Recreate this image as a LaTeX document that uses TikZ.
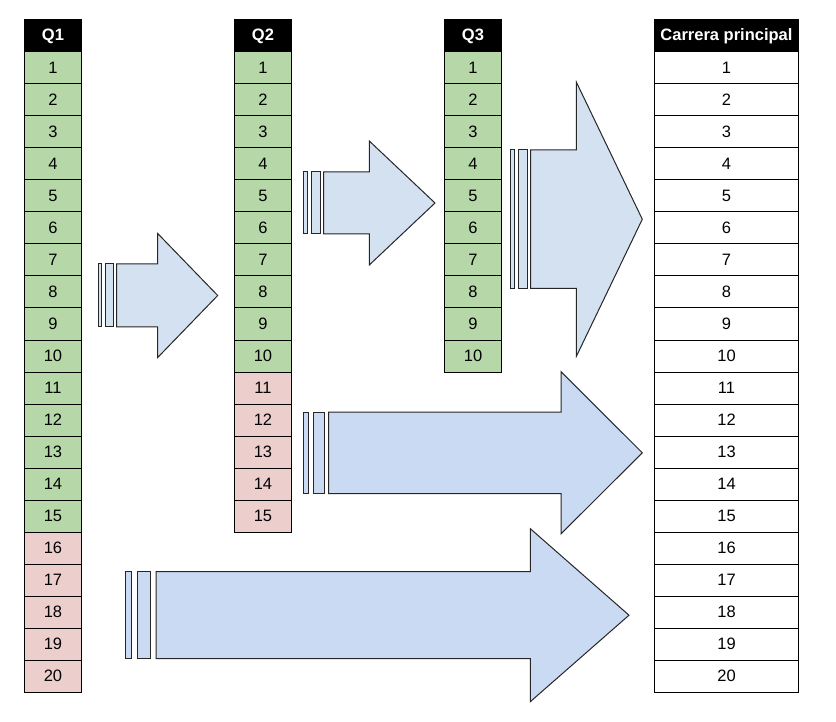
\documentclass[tikz,border=0pt]{standalone}
\usepackage{fontspec}
\setmainfont{Liberation Sans}
\definecolor{verde}{HTML}{B6D7A8}
\definecolor{rosa}{HTML}{ECCFCD}
\definecolor{azul}{HTML}{D4E1F1}
\definecolor{azulb}{HTML}{CBDAF3}
\tikzset{
  celda/.style={draw, line width=1pt, minimum width=57.4pt, minimum height=32pt,
    inner sep=0pt, font=\fontsize{16.5}{20}\selectfont},
  cabecera/.style={celda, fill=black, text=white, font=\fontsize{16.5}{20}\selectfont\bfseries},
  pasa/.style={celda, fill=verde},
  elim/.style={celda, fill=rosa},
  ancha/.style={minimum width=144.4pt},
  flecha/.style={draw=black!85, line width=1pt, line join=miter},
}
\begin{document}
\begin{tikzpicture}[x=1pt, y=-1pt]
  \useasboundingbox (0,0) rectangle (836,722);
  % Q1
  \node[cabecera] (q1-h) at (53,36) {Q1};
  \node[pasa] (q1-1) at (53,68) {1};
  \node[pasa] (q1-2) at (53,100) {2};
  \node[pasa] (q1-3) at (53,132) {3};
  \node[pasa] (q1-4) at (53,164) {4};
  \node[pasa] (q1-5) at (53,196) {5};
  \node[pasa] (q1-6) at (53,228) {6};
  \node[pasa] (q1-7) at (53,260) {7};
  \node[pasa] (q1-8) at (53,292) {8};
  \node[pasa] (q1-9) at (53,324) {9};
  \node[pasa] (q1-10) at (53,356) {10};
  \node[pasa] (q1-11) at (53,388) {11};
  \node[pasa] (q1-12) at (53,420) {12};
  \node[pasa] (q1-13) at (53,452) {13};
  \node[pasa] (q1-14) at (53,484) {14};
  \node[pasa] (q1-15) at (53,516) {15};
  \node[elim] (q1-16) at (53,548) {16};
  \node[elim] (q1-17) at (53,580) {17};
  \node[elim] (q1-18) at (53,612) {18};
  \node[elim] (q1-19) at (53,644) {19};
  \node[elim] (q1-20) at (53,676) {20};
  % Q2
  \node[cabecera] (q2-h) at (263,36) {Q2};
  \node[pasa] (q2-1) at (263,68) {1};
  \node[pasa] (q2-2) at (263,100) {2};
  \node[pasa] (q2-3) at (263,132) {3};
  \node[pasa] (q2-4) at (263,164) {4};
  \node[pasa] (q2-5) at (263,196) {5};
  \node[pasa] (q2-6) at (263,228) {6};
  \node[pasa] (q2-7) at (263,260) {7};
  \node[pasa] (q2-8) at (263,292) {8};
  \node[pasa] (q2-9) at (263,324) {9};
  \node[pasa] (q2-10) at (263,356) {10};
  \node[elim] (q2-11) at (263,388) {11};
  \node[elim] (q2-12) at (263,420) {12};
  \node[elim] (q2-13) at (263,452) {13};
  \node[elim] (q2-14) at (263,484) {14};
  \node[elim] (q2-15) at (263,516) {15};
  % Q3
  \node[cabecera] (q3-h) at (473,36) {Q3};
  \node[pasa] (q3-1) at (473,68) {1};
  \node[pasa] (q3-2) at (473,100) {2};
  \node[pasa] (q3-3) at (473,132) {3};
  \node[pasa] (q3-4) at (473,164) {4};
  \node[pasa] (q3-5) at (473,196) {5};
  \node[pasa] (q3-6) at (473,228) {6};
  \node[pasa] (q3-7) at (473,260) {7};
  \node[pasa] (q3-8) at (473,292) {8};
  \node[pasa] (q3-9) at (473,324) {9};
  \node[pasa] (q3-10) at (473,356) {10};
  % Carrera principal
  \node[cabecera, ancha] (cp-h) at (726.5,36) {Carrera principal};
  \node[celda, ancha] (cp-1) at (726.5,68) {1};
  \node[celda, ancha] (cp-2) at (726.5,100) {2};
  \node[celda, ancha] (cp-3) at (726.5,132) {3};
  \node[celda, ancha] (cp-4) at (726.5,164) {4};
  \node[celda, ancha] (cp-5) at (726.5,196) {5};
  \node[celda, ancha] (cp-6) at (726.5,228) {6};
  \node[celda, ancha] (cp-7) at (726.5,260) {7};
  \node[celda, ancha] (cp-8) at (726.5,292) {8};
  \node[celda, ancha] (cp-9) at (726.5,324) {9};
  \node[celda, ancha] (cp-10) at (726.5,356) {10};
  \node[celda, ancha] (cp-11) at (726.5,388) {11};
  \node[celda, ancha] (cp-12) at (726.5,420) {12};
  \node[celda, ancha] (cp-13) at (726.5,452) {13};
  \node[celda, ancha] (cp-14) at (726.5,484) {14};
  \node[celda, ancha] (cp-15) at (726.5,516) {15};
  \node[celda, ancha] (cp-16) at (726.5,548) {16};
  \node[celda, ancha] (cp-17) at (726.5,580) {17};
  \node[celda, ancha] (cp-18) at (726.5,612) {18};
  \node[celda, ancha] (cp-19) at (726.5,644) {19};
  \node[celda, ancha] (cp-20) at (726.5,676) {20};
  % flechas
  \draw[flecha, fill=azul] (98.3,264) rectangle (101.7,327);
  \draw[flecha, fill=azul] (105,264) rectangle (113.7,327);
  \draw[flecha, fill=azul] (116.7,264) -- (157.7,264) -- (157.7,233.5) -- (217.7,295.5) -- (157.7,357.5) -- (157.7,327) -- (116.7,327) -- cycle;
  \draw[flecha, fill=azul] (303.3,172) rectangle (307.3,234);
  \draw[flecha, fill=azul] (311.3,172) rectangle (320,234);
  \draw[flecha, fill=azul] (323.7,172) -- (369.3,172) -- (369.3,141) -- (435,203) -- (369.3,265) -- (369.3,234) -- (323.7,234) -- cycle;
  \draw[flecha, fill=azul] (510,150) rectangle (514.7,288.5);
  \draw[flecha, fill=azul] (518.7,150) rectangle (527,288.5);
  \draw[flecha, fill=azul] (530.7,150) -- (576.3,150) -- (576.3,82) -- (642.3,219.25) -- (576.3,356.5) -- (576.3,288.5) -- (530.7,288.5) -- cycle;
  \draw[flecha, fill=azulb] (303.5,412) rectangle (308.6,493.7);
  \draw[flecha, fill=azulb] (313.5,412) rectangle (324.2,493.7);
  \draw[flecha, fill=azulb] (328.6,412) -- (561,412) -- (561,371.7) -- (642.3,452.8) -- (561,533.9) -- (561,493.7) -- (328.6,493.7) -- cycle;
  \draw[flecha, fill=azulb] (125.9,571.7) rectangle (131.8,658.7);
  \draw[flecha, fill=azulb] (137.7,571.7) rectangle (150.7,658.7);
  \draw[flecha, fill=azulb] (156.2,571.7) -- (530.3,571.7) -- (530.3,528.7) -- (629,615.2) -- (530.3,701.7) -- (530.3,658.7) -- (156.2,658.7) -- cycle;
\end{tikzpicture}
\end{document}
